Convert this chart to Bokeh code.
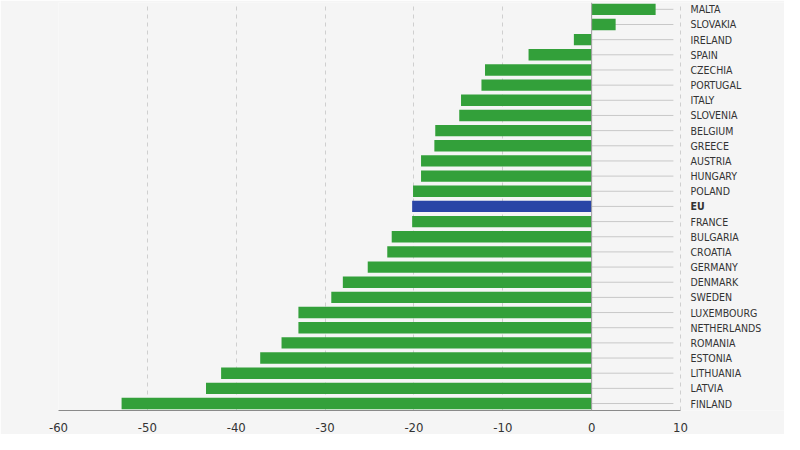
from bokeh.plotting import figure
from bokeh.models import Range1d, FixedTicker, Span, ColumnDataSource
from bokeh.core.properties import value
from bokeh.embed import file_html
from bokeh.resources import INLINE

countries = ["MALTA", "SLOVAKIA", "IRELAND", "SPAIN", "CZECHIA", "PORTUGAL", "ITALY",
             "SLOVENIA", "BELGIUM", "GREECE", "AUSTRIA", "HUNGARY", "POLAND", "EU",
             "FRANCE", "BULGARIA", "CROATIA", "GERMANY", "DENMARK", "SWEDEN",
             "LUXEMBOURG", "NETHERLANDS", "ROMANIA", "ESTONIA", "LITHUANIA", "LATVIA",
             "FINLAND"]
values = [7.2, 2.7, -2.0, -7.1, -12.0, -12.4, -14.7, -14.9, -17.6, -17.7, -19.2, -19.2,
          -20.1, -20.2, -20.2, -22.5, -23.0, -25.2, -28.0, -29.3, -33.0, -33.0, -34.9,
          -37.3, -41.7, -43.4, -52.9]
x_ticks = [-60, -50, -40, -30, -20, -10, 0, 10]
x_tick_labels = ["-60", "-50", "-40", "-30", "-20", "-10", "0", "10"]

GREEN = "#33a03a"
BLUE = "#2a45a6"
BG = "#f5f5f5"
FONT = "DejaVu Sans Condensed"

n = len(countries)
ypos = [n - 1 - i for i in range(n)]
colors = [BLUE if c == "EU" else GREEN for c in countries]
styles = ["bold" if c == "EU" else "normal" for c in countries]

src = ColumnDataSource(dict(y=ypos, v=values, c=colors, z=[0] * n, g=[9.2] * n,
                            lx=[x_ticks[-1]] * n, name=countries, st=styles))

W, H = 784, 434
left, top = 58, 2
px_per_unit = (680 - 58) / 70.0
x_end = -60 + (W - left) / px_per_unit

p = figure(width=W, height=H, output_backend="svg", toolbar_location=None,
           x_range=Range1d(-60, x_end), y_range=Range1d(-0.46, n - 1 + 0.45),
           min_border_left=left, min_border_right=0,
           min_border_top=top, background_fill_color=BG, border_fill_color=BG)
p.outline_line_color = None
p.yaxis.visible = False

# horizontal guide lines (right part)
p.segment(x0="z", x1="g", y0="y", y1="y", source=src, line_color="#c8c8c8", line_width=1)

p.hbar(y="y", left="z", right="v", height=0.75, fill_color="c", line_color=None, source=src)

p.add_layout(Span(location=0, dimension="height", line_color="#a0a0a0", line_width=1))

p.text(x="lx", y="y", text="name", source=src, x_offset=10,
       text_font=value(FONT), text_font_size="10.5px", text_font_style="st",
       text_color="#333333", text_baseline="middle", text_align="left")

p.ygrid.visible = False
p.xgrid.ticker = FixedTicker(ticks=x_ticks)
p.xgrid.grid_line_color = "#cfcfcf"
p.xgrid.grid_line_dash = "4 4"

xa = p.xaxis[0]
xa.ticker = FixedTicker(ticks=x_ticks)
xa.bounds = (x_ticks[0], x_ticks[-1])
xa.major_label_overrides = {t: l for t, l in zip(x_ticks, x_tick_labels)}
xa.major_tick_line_color = None
xa.minor_tick_line_color = None
xa.axis_line_color = "#8a8a8a"
xa.major_label_text_font = FONT
xa.major_label_text_font_size = "13px"
xa.major_label_text_color = "#333333"
xa.major_label_standoff = 6

open("out.html", "w").write(file_html(p, INLINE))
